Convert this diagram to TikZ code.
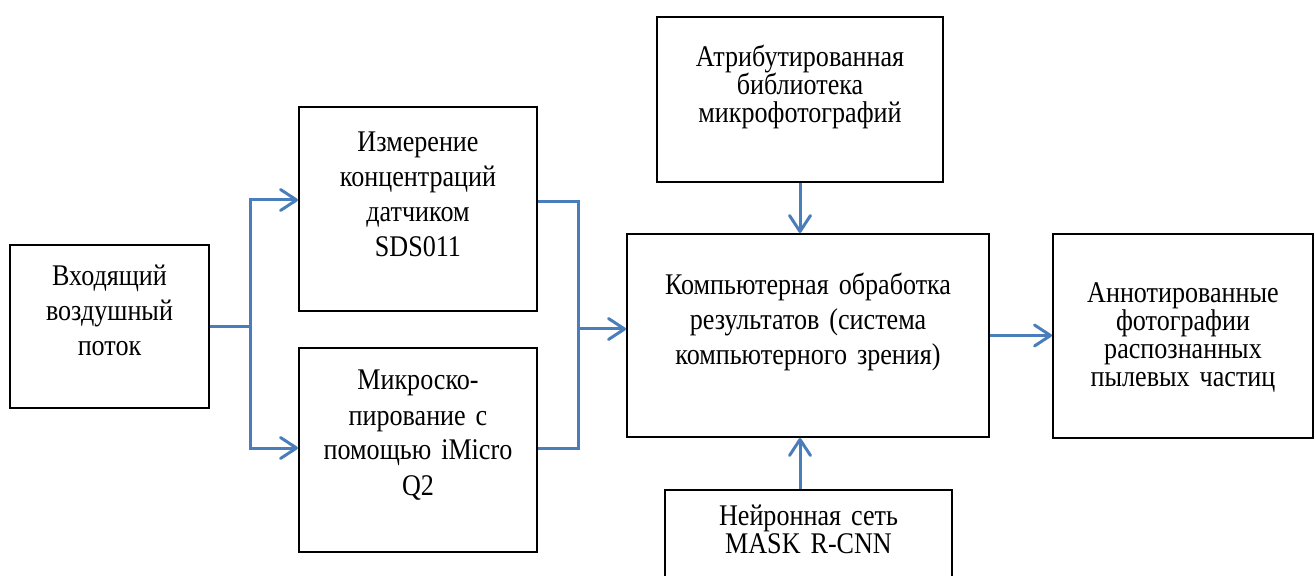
\documentclass[tikz,border=0pt]{standalone}
\usepackage{fontspec}
\setmainfont{Liberation Serif}[FakeStretch=0.87]
\usetikzlibrary{arrows.meta}
\definecolor{flowblue}{HTML}{4A7EBB}

\begin{document}
\begin{tikzpicture}[x=0.5pt, y=-0.5pt,
  block/.style={rectangle, draw, line width=1pt, inner sep=0pt},
  txt/.style={anchor=base, inner sep=0pt, align=center, font=\fontsize{15pt}{17.5pt}\selectfont},
  tighttxt/.style={txt, font=\fontsize{15pt}{14pt}\selectfont},
  link/.style={draw=flowblue, line width=1.5pt},
  flow/.style={link, -{Straight Barb[length=8pt, width=10.5pt, round]}}]
\useasboundingbox (0,0) rectangle (1315,576);
\clip (0,0) rectangle (1315,576);

% boxes
\node [block, minimum width=99.5pt, minimum height=81.5pt] (in) at (109.5,326.5) {};
\node [block, minimum width=119pt, minimum height=102pt] (sds) at (418,209) {};
\node [block, minimum width=119pt, minimum height=102pt] (micro) at (418,450) {};
\node [block, minimum width=143pt, minimum height=82.5pt] (lib) at (800,99.5) {};
\node [block, minimum width=181pt, minimum height=101.5pt] (proc) at (808,335.5) {};
\node [block, minimum width=130pt, minimum height=102pt] (out) at (1183,336) {};
\node [block, minimum width=143.5pt, minimum height=75pt] (nn) at (808.5,565) {};

% texts
\node [txt, text width=95pt] (in-t) at (109.5,286) {Входящий\\ воздушный\\ поток};
\node [txt, text width=115pt] (sds-t) at (418,152) {Измерение\\ концентраций\\ датчиком\\ SDS011};
\node [txt, text width=115pt] (micro-t) at (418,390) {Микроско-\\ пирование с\\ помощью iMicro\\ Q2};
\node [tighttxt, text width=140pt] (lib-t) at (800,67) {Атрибутированная\\ библиотека\\ микрофотографий};
\node [txt, text width=175pt] (proc-t) at (808,295) {Компьютерная обработка\\ результатов (система\\ компьютерного зрения)};
\node [tighttxt, text width=125pt] (out-t) at (1183,303) {Аннотированные\\ фотографии\\ распознанных\\ пылевых частиц};
\node [tighttxt, text width=140pt] (nn-t) at (808.5,525) {Нейронная сеть\\ MASK R-CNN};

% connectors
\coordinate (fork) at (250,326.5);
\coordinate (join) at (578,329);
\draw [link] (in.east) -- (fork);
\draw [flow] (fork) |- ([yshift=4.5pt]sds.west);
\draw [flow] (fork) |- ([yshift=1pt]micro.west);
\draw [link] ([yshift=3.5pt]sds.east) -| (join);
\draw [link] ([yshift=1pt]micro.east) -| (join);
\draw [flow] (join) -- (join -| proc.west);
\draw [flow] (lib.south) -- (lib.south |- proc.north);
\draw [flow] (lib.south |- nn.north) -- (lib.south |- proc.south);
\draw [flow] (proc.east) -- (proc.east -| out.west);
\end{tikzpicture}
\end{document}
